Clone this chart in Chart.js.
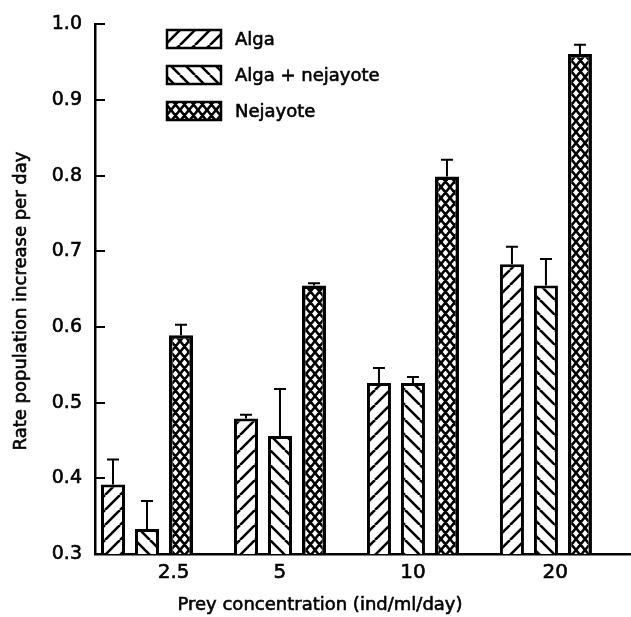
<!DOCTYPE html>
<html>
<head>
<meta charset="utf-8">
<script src="https://cdn.jsdelivr.net/npm/chart.js@4.4.1/dist/chart.umd.min.js"></script>
<style>
  html, body { margin: 0; padding: 0; background: #fff; }
</style>
</head>
<body>
<canvas id="chart" width="631" height="617"></canvas>
<script>
const concentrations = ["2.5", "5", "10", "20"]
const labelSpots = [0.2, 1, 2, 3.07]   // where each concentration label sits on the x axis
const seriesNames = ["Alga", "Alga + nejayote", "Nejayote"]

const alga = [0.392, 0.479, 0.526, 0.683]
const algaErr = [0.033, 0.005, 0.020, 0.023]
const algaNej = [0.333, 0.456, 0.526, 0.655]
const algaNejErr = [0.037, 0.062, 0.008, 0.035]
const nejayote = [0.589, 0.655, 0.799, 0.961]
const nejayoteErr = [0.014, 0.003, 0.022, 0.012]

const FONT = "'DejaVu Sans', Arial, sans-serif"
const INK = 0.6   // extra stroke on text so it prints a little heavier
const X_MIN = -0.391
const X_MAX = 3.632

// black-and-white hatch fills for the bars
function hatch(kind) {
    const w = kind === "cross" ? 9 : 15
    const h = kind === "cross" ? 11 : 15
    const c = document.createElement("canvas")
    c.width = w
    c.height = h
    const g = c.getContext("2d")
    g.fillStyle = "#fff"
    g.fillRect(0, 0, w, h)
    g.strokeStyle = "#000"
    g.lineWidth = 2.6
    g.beginPath()
    for (let k = -1; k <= 1; k++) {
        if (kind === "fwd" || kind === "cross") {
            g.moveTo(k * w, h)
            g.lineTo(k * w + w, 0)
        }
        if (kind === "back" || kind === "cross") {
            g.moveTo(k * w, 0)
            g.lineTo(k * w + w, h)
        }
    }
    g.stroke()
    return g.createPattern(c, "repeat")
}

const toPoints = arr => arr.map((v, i) => ({ x: i, y: v }))

function inkText(ctx, text, x, y) {
    ctx.lineWidth = INK
    ctx.strokeStyle = "#000"
    ctx.strokeText(text, x, y)
    ctx.fillText(text, x, y)
}

// vertical error whiskers with a cap on top of each bar
const errorBars = {
    id: "errorBars",
    afterDatasetsDraw(chart) {
        const ctx = chart.ctx
        const y = chart.scales.y
        chart.data.datasets.forEach((ds, di) => {
            const meta = chart.getDatasetMeta(di)
            meta.data.forEach((bar, i) => {
                const top = y.getPixelForValue(ds.data[i].y + ds.errors[i])
                ctx.save()
                ctx.strokeStyle = "#000"
                ctx.lineWidth = 2
                ctx.beginPath()
                ctx.moveTo(bar.x, bar.y)
                ctx.lineTo(bar.x, top)
                ctx.moveTo(bar.x - 6, top)
                ctx.lineTo(bar.x + 6, top)
                ctx.stroke()
                ctx.restore()
            })
        })
    }
}

// y tick marks point into the plot
const insideTicks = {
    id: "insideTicks",
    afterDraw(chart) {
        const ctx = chart.ctx
        const y = chart.scales.y
        ctx.save()
        ctx.strokeStyle = "#000"
        ctx.lineWidth = 2
        ctx.beginPath()
        y.ticks.forEach(t => {
            const py = Math.round(y.getPixelForValue(t.value))
            ctx.moveTo(y.right, py)
            ctx.lineTo(y.right + 10, py)
        })
        ctx.stroke()
        ctx.restore()
    }
}

// stacked legend in the upper left of the plot
const boxLegend = {
    id: "boxLegend",
    afterDraw(chart, args, opts) {
        const ctx = chart.ctx
        ctx.save()
        chart.data.datasets.forEach((ds, i) => {
            const cy = opts.top + i * opts.gap
            ctx.fillStyle = ds.backgroundColor
            ctx.fillRect(opts.left, cy - 9, 54, 18)
            ctx.strokeStyle = "#000"
            ctx.lineWidth = 2.5
            ctx.strokeRect(opts.left, cy - 9, 54, 18)
            ctx.fillStyle = "#000"
            ctx.font = "18px " + FONT
            ctx.textBaseline = "middle"
            ctx.textAlign = "left"
            inkText(ctx, ds.label, opts.left + 68, cy + 1)
        })
        ctx.restore()
    }
}

// axis titles
const axisTitles = {
    id: "axisTitles",
    afterDraw(chart, args, opts) {
        const ctx = chart.ctx
        ctx.save()
        ctx.fillStyle = "#000"
        ctx.font = "18px " + FONT
        ctx.textAlign = "center"
        ctx.textBaseline = "middle"
        inkText(ctx, opts.x, opts.xPos[0], opts.xPos[1])
        ctx.translate(opts.yPos[0], opts.yPos[1])
        ctx.rotate(-Math.PI / 2)
        inkText(ctx, opts.y, 0, 0)
        ctx.restore()
    }
}

const ctx = document.getElementById("chart").getContext("2d")

const myChart = new Chart(ctx, {
    type: "bar",
    data: {
        datasets: [
            { label: seriesNames[0], data: toPoints(alga), errors: algaErr, backgroundColor: hatch("fwd"), borderWidth: 3 },
            { label: seriesNames[1], data: toPoints(algaNej), errors: algaNejErr, backgroundColor: hatch("back"), borderWidth: 3 },
            { label: seriesNames[2], data: toPoints(nejayote), errors: nejayoteErr, backgroundColor: hatch("cross"), borderWidth: 3.5 }
        ]
    },
    options: {
        responsive: false,
        animation: false,
        devicePixelRatio: 1,
        layout: { padding: { top: 21, right: 1, left: 0, bottom: 0 } },
        datasets: {
            bar: {
                xAxisID: "xb",
                borderColor: "#000",
                borderSkipped: false,
                categoryPercentage: 0.767,
                barPercentage: 0.706
            }
        },
        plugins: {
            legend: { display: false },
            tooltip: { enabled: false },
            boxLegend: { left: 167, top: 39, gap: 36 },
            axisTitles: {
                x: "Prey concentration (ind/ml/day)",
                y: "Rate population increase per day",
                xPos: [320, 605],
                yPos: [21, 301]
            }
        },
        scales: {
            // hidden scale the bars are placed on, one unit per concentration
            xb: {
                type: "linear",
                display: false,
                offset: false,
                min: X_MIN,
                max: X_MAX,
                afterBuildTicks: scale => {
                    scale.ticks = concentrations.map((c, i) => ({ value: i }))
                }
            },
            // visible axis line and its labels
            x: {
                type: "linear",
                position: "bottom",
                offset: false,
                min: X_MIN,
                max: X_MAX,
                afterBuildTicks: scale => {
                    scale.ticks = labelSpots.map(v => ({ value: v }))
                },
                afterFit: scale => { scale.height = 63 },
                grid: { display: false, drawTicks: false },
                border: { color: "#000", width: 2.5 },
                ticks: {
                    callback: (value, index) => concentrations[index],
                    color: "#000",
                    textStrokeColor: "#000",
                    textStrokeWidth: INK,
                    font: { size: 20, family: FONT },
                    padding: 7,
                    maxRotation: 0,
                    autoSkip: false
                }
            },
            y: {
                min: 0.3,
                max: 1.0,
                afterFit: scale => { scale.width = 95 },
                grid: { drawOnChartArea: false, drawTicks: false },
                border: { color: "#000", width: 2.5 },
                ticks: {
                    stepSize: 0.1,
                    callback: value => value.toFixed(1),
                    color: "#000",
                    textStrokeColor: "#000",
                    textStrokeWidth: INK,
                    font: { size: 19, family: FONT },
                    padding: 13
                }
            }
        }
    },
    plugins: [errorBars, insideTicks, boxLegend, axisTitles]
});
</script>
</body>
</html>
